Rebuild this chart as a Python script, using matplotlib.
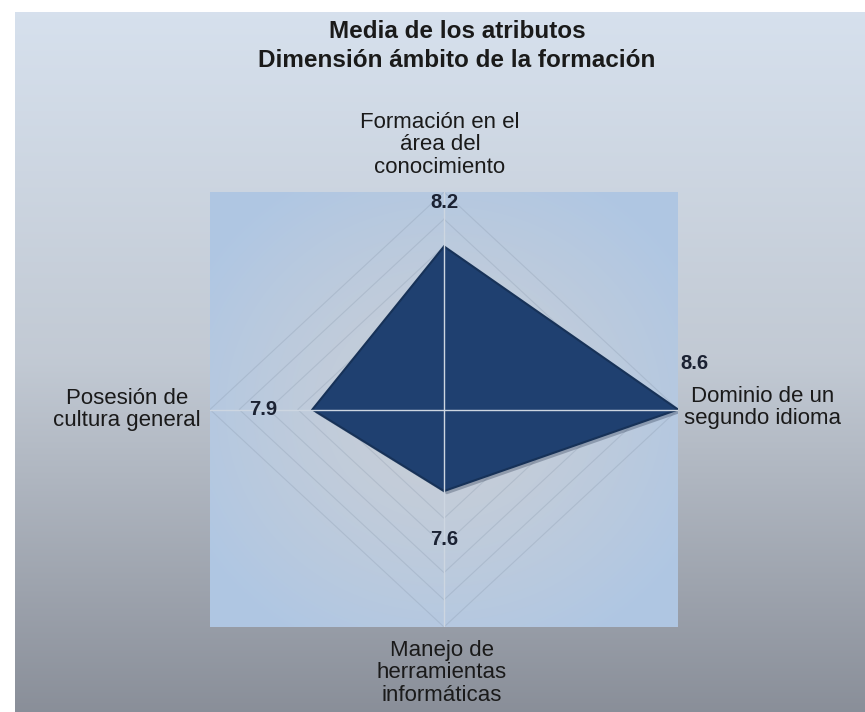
import numpy as np
import matplotlib
matplotlib.use("Agg")
import matplotlib.pyplot as plt

# ==========================================
# DATA
# ==========================================
categories = [
    "Formación en el\nárea del\nconocimiento",
    "Dominio de un\nsegundo idioma",
    "Manejo de\nherramientas\ninformáticas",
    "Posesión de\ncultura general",
]
values = [8.2, 8.6, 7.6, 7.9]
value_labels = ["8.2", "8.6", "7.6", "7.9"]
r_min, r_max, r_step = 7.0, 8.6, 0.2
title = "Media de los atributos\nDimensión ámbito de la formación"

plt.rcParams['font.family'] = ['Liberation Sans', 'DejaVu Sans']

W, H = 865, 712
fig = plt.figure(figsize=(W / 100, H / 100), dpi=100)
fig.patch.set_facecolor("white")

# figure background gradient (top light blue -> bottom gray)
bg = fig.add_axes([15 / W, 0, 1 - 15 / W, 1 - 12 / H])
bg.axis("off")
t = np.linspace(0, 1, 256)[:, None]
top = np.array([0.84, 0.88, 0.93])
mid = np.array([0.76, 0.79, 0.83])
bot = np.array([0.54, 0.56, 0.60])
grad = np.where(t < 0.5, top + (mid - top) * (t / 0.5), mid + (bot - mid) * ((t - 0.5) / 0.5))
grad = np.repeat(grad[:, None, :], 2, axis=1).reshape(256, 2, 3)
bg.imshow(grad, aspect="auto", extent=[0, 1, 0, 1], interpolation="bicubic")
bg.set_xlim(0, 1); bg.set_ylim(0, 1)

# radar area
ax = fig.add_axes([210 / W, 85 / H, 468 / W, 435 / H])
ax.set_xlim(-1, 1); ax.set_ylim(-1, 1)
ax.axis("off")

# plot area gradient (bluish edges, lighter grey center)
yy, xx = np.mgrid[-1:1:200j, -1:1:200j]
d = np.clip(np.hypot(xx, yy) / 1.2, 0, 1) ** 1.3
c_in = np.array([0.79, 0.81, 0.84])
c_out = np.array([0.69, 0.78, 0.89])
img = c_in + (c_out - c_in) * d[..., None]
ax.imshow(img, extent=[-1, 1, -1, 1], aspect="auto", zorder=0, interpolation="bicubic")

angles = np.deg2rad([90, 0, 270, 180])

def to_xy(v):
    r = (np.asarray(v) - r_min) / (r_max - r_min)
    return r * np.cos(angles), r * np.sin(angles)

# grid rings
for lev in np.arange(r_min + r_step, r_max + 1e-9, r_step):
    gx, gy = to_xy([lev] * 4)
    ax.plot(np.append(gx, gx[0]), np.append(gy, gy[0]), color="#7f8fa3", alpha=0.25, lw=0.8, zorder=1)

# series polygon with a soft shadow
px, py = to_xy(values)
ax.fill(px + 0.012, py - 0.015, color="#33415a", alpha=0.35, zorder=1.5, lw=0)
ax.fill(px, py, facecolor="#1f4070", edgecolor="#173258", lw=1.5, zorder=2)

# spokes
ax.plot([0, 0], [-1, 1], color="#cdd6e1", lw=1.0, zorder=3)
ax.plot([-1, 1], [0, 0], color="#cdd6e1", lw=1.0, zorder=3)

# value labels
lab_offsets = [(0, 44), (16, 46), (0, -48), (-49, 0)]
for i, lbl in enumerate(value_labels):
    ax.annotate(lbl, (px[i], py[i]), xytext=lab_offsets[i], textcoords="offset pixels",
                ha="center", va="center", fontsize=14.5, fontweight="bold", color="#1b2233", zorder=5)

# category labels at ends of axes
cat_pos = [((0, 1), (-4, 47), "center"), ((1, 0), (6, 2), "left"),
           ((0, -1), (-2, -46), "center"), ((-1, 0), (-9, 0), "right")]
for name, (xy, off, ha) in zip(categories, cat_pos):
    ax.annotate(name, xy, xytext=off, textcoords="offset pixels", ha=ha, va="center",
                multialignment="center", fontsize=16, color="#1a1a1a", linespacing=1.12,
                annotation_clip=False, zorder=5)

fig.text(457 / W, 1 - 46 / H, title, ha="center", va="center", fontsize=17.5,
         fontweight="bold", color="#1a1a1a", linespacing=1.3)

fig.savefig("out.png", dpi=100)
